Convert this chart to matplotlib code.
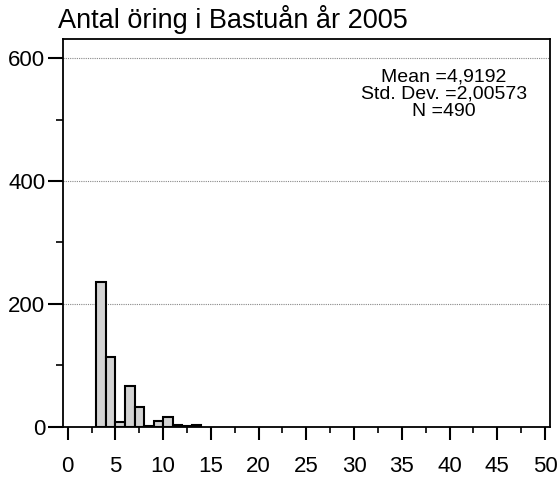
import matplotlib
matplotlib.use("Agg")
import matplotlib.pyplot as plt
from matplotlib.ticker import MultipleLocator

plt.rcParams['font.family'] = ['Liberation Sans', 'DejaVu Sans']

title = "Antal öring i Bastuån år 2005"
bin_left = [3, 4, 5, 6, 7, 8, 9, 10, 11, 12, 13]
counts = [236, 114, 7, 66, 33, 2, 9, 16, 3, 1, 3]
stats_text = "Mean =4,9192\nStd. Dev. =2,00573\nN =490"
x_ticks = [0, 5, 10, 15, 20, 25, 30, 35, 40, 45, 50]
y_ticks = [0, 200, 400, 600]

fig = plt.figure(figsize=(5.6, 4.79), dpi=100)
ax = fig.add_axes([0.112, 0.109, 0.87, 0.8096])

ax.bar(bin_left, counts, width=1, align='edge', color='#d3d3d3',
       edgecolor='black', linewidth=1.5, zorder=3)

ax.set_xlim(-0.52, 50.52)
ax.set_ylim(0, 631)
ax.set_xticks(x_ticks)
ax.set_yticks(y_ticks)
ax.xaxis.set_minor_locator(MultipleLocator(2.5))
ax.yaxis.set_minor_locator(MultipleLocator(100))

ax.yaxis.grid(True, which='major', linestyle=(0, (1, 1)), color='#888888', linewidth=0.8, zorder=0)

for s in ax.spines.values():
    s.set_linewidth(1.3)

ax.tick_params(axis='x', which='major', direction='out', length=9.2, width=1.5,
               labelsize=16, pad=12)
ax.tick_params(axis='x', which='minor', direction='out', length=4, width=1.2)
ax.tick_params(axis='y', which='major', direction='out', length=10.6, width=1.5,
               labelsize=16, pad=2)
ax.tick_params(axis='y', which='minor', direction='out', length=5, width=1.2)

ax.text(0.7825, 0.925, stats_text, transform=ax.transAxes, ha='center', va='top',
        fontsize=14, linespacing=1.05)

fig.text(0.104, 0.96, title, ha='left', va='center', fontsize=19.5)

fig.savefig("out.png", dpi=100)
